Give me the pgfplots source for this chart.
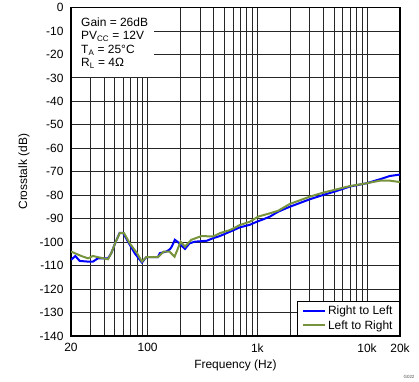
\documentclass[border=0pt]{standalone}
\usepackage{pgfplots}
\pgfplotsset{compat=1.18}
\usepackage{fontspec}
\setmainfont{Liberation Sans}
\definecolor{rlblue}{RGB}{0,0,255}
\definecolor{lrgreen}{RGB}{119,147,60}
\newcommand{\ff}{\fontsize{12}{13.5}\selectfont}
\begin{document}
\begin{tikzpicture}
\path[use as bounding box] (-71bp,-46bp) rectangle (348bp,336bp);
\begin{axis}[
  scale only axis,
  width=329bp, height=328.5bp,
  xmode=log, xmin=20, xmax=20000, ymin=-140, ymax=0,
  xtick={20,100,1000,10000,20000},
  xticklabels={20,100,1k,10k,20k},
  minor xtick={30,40,50,60,70,80,90,200,300,400,500,600,700,800,900,2000,3000,4000,5000,6000,7000,8000,9000},
  ytick={-140,-130,-120,-110,-100,-90,-80,-70,-60,-50,-40,-30,-20,-10,0},
  yticklabels={-140,-130,-120,-110,-100,-90,-80,-70,-60,-50,-40,-30,-20,-10,0},
  grid=both,
  major grid style={black!85, line width=0.9bp},
  minor grid style={black!85, line width=0.9bp},
  major tick length=0pt, minor tick length=0pt,
  axis line style={black, line width=1.5bp},
  tick label style={font=\ff},
  xticklabel style={yshift=-4bp},
  yticklabel style={xshift=-4bp},
  label style={font=\ff},
  xlabel={Frequency (Hz)},
  ylabel={Crosstalk (dB)},
  xlabel shift=1bp,
  ylabel shift=3bp,
  legend style={at={(rel axis cs:1,0)}, anchor=south east, draw=black, line width=1bp, fill=white, font=\ff, inner xsep=5bp, inner ysep=3bp, row sep=0bp, legend cell align=left},
  legend image code/.code={\draw[#1] (0bp,0bp) -- (22bp,0bp);},
]
\fill[white] ([xshift=1bp,yshift=-1bp]rel axis cs:0,1) rectangle (axis cs:114,-29.6);
\addplot[rlblue, line width=2bp] coordinates {
(20,-107.6) (21.9,-105.9) (24,-108) (28.6,-108.3) (31.7,-108.3) (35.2,-106.9) (43.5,-106.9) (46.6,-104.7) (51,-100) (55.6,-96) (59.6,-96) (66.2,-99.8) (76.1,-104.7) (88.7,-108.7) (97.1,-106.4) (124,-106.4) (129,-104.7) (148,-104) (160,-103) (166,-101.9) (177,-99) (189,-100) (200,-101.2) (219,-102.9) (241,-100.5) (270,-99.8) (346,-99.4) (396,-98.3) (455,-97.4) (566,-95.5) (694,-93.7) (855,-92.6) (1000,-91.2) (1130,-90.3) (1304,-89.1) (1552,-87) (1984,-84.9) (3019,-81.7) (3990,-79.9) (5285,-78.2) (6985,-76.3) (9927,-74.9) (13120,-73.2) (16180,-71.8) (20000,-71.2)
};
\addlegendentry{Right to Left}
\addplot[lrgreen, line width=2bp] coordinates {
(20,-104) (24.8,-105.9) (28.6,-106.9) (31.7,-105.9) (35.2,-106.4) (43.5,-107.3) (46.6,-104.7) (51,-100) (55.6,-96.2) (61,-96.2) (68.6,-100.5) (80,-104.7) (88.7,-108.3) (97.1,-106.4) (124,-106.4) (140,-104) (158,-104) (176,-106.2) (200,-99.8) (219,-101.9) (250,-99) (310,-97.4) (396,-97.6) (455,-96.2) (566,-94.8) (694,-92.7) (855,-91.3) (1020,-89.1) (1304,-87.7) (1552,-86.6) (1984,-83.7) (3019,-80.6) (3990,-78.9) (5285,-77.5) (6985,-76.1) (9927,-74.9) (13120,-73.8) (16180,-73.8) (20000,-74.4)
};
\addlegendentry{Left to Right}
\node[anchor=north west, inner sep=0pt, align=left, font=\ff] at ([xshift=10bp,yshift=-10bp]rel axis cs:0,1)
  {Gain = 26dB\\PV\textsubscript{CC} = 12V\\T\textsubscript{A} = 25°C\\R\textsubscript{L} = 4Ω};
\end{axis}
\node[anchor=center, inner sep=0pt, font=\fontsize{4.5}{5}\selectfont, text=black!70] at (338bp,-40.5bp) {G022};
\end{tikzpicture}
\end{document}
